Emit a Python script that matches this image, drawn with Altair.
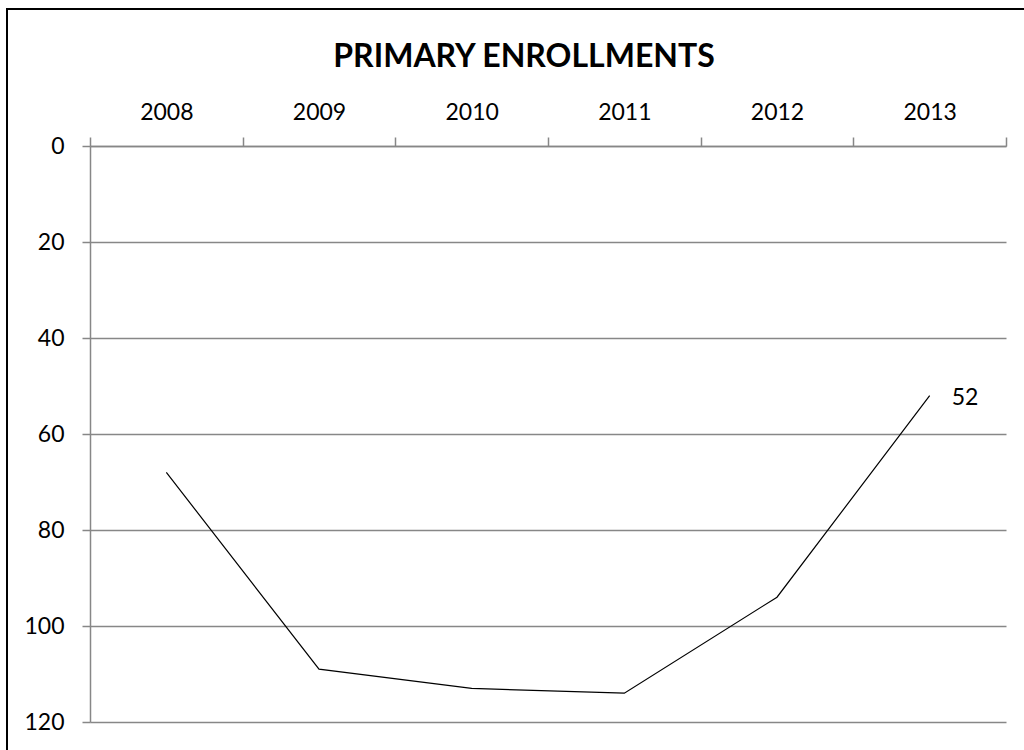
import altair as alt
import pandas as pd

years = ["2008", "2009", "2010", "2011", "2012", "2013"]
enrollments = [68, 109, 113, 114, 94, 52]
y_ticks = [0, 20, 40, 60, 80, 100, 120]
title_text = "PRIMARY ENROLLMENTS"

df = pd.DataFrame({"year": years, "value": enrollments})

FONT = "Lato"
GRAY = "#878787"

x_enc = alt.X(
    "year:O",
    sort=years,
    bandPosition=0.5,
    scale=alt.Scale(type="band", paddingInner=0, paddingOuter=0),
    axis=alt.Axis(
        orient="top",
        title=None,
        tickBand="extent",
        grid=False,
        domainColor=GRAY,
        domainWidth=1.5,
        tickColor=GRAY,
        tickWidth=1.5,
        tickSize=9,
        labelPadding=13,
        labelFont=FONT,
        labelFontSize=23,
        labelColor="black",
        labelAngle=0,
    ),
)

y_enc = alt.Y(
    "value:Q",
    scale=alt.Scale(domain=[0, 120], reverse=True, nice=False, zero=True),
    axis=alt.Axis(
        title=None,
        values=y_ticks,
        grid=True,
        gridColor=GRAY,
        gridWidth=1.5,
        domainColor=GRAY,
        domainWidth=1.5,
        tickColor=GRAY,
        tickWidth=1.5,
        tickSize=8,
        labelPadding=18,
        labelFont=FONT,
        labelFontSize=23,
        labelColor="black",
    ),
)

line = alt.Chart(df).mark_line(color="black", strokeWidth=1.2).encode(x=x_enc, y=y_enc)

label = (
    alt.Chart(df)
    .transform_filter(alt.datum.year == years[-1])
    .mark_text(align="left", baseline="middle", dx=22, dy=2, font=FONT, fontSize=23, color="black")
    .encode(
        x=alt.X("year:O", sort=years, bandPosition=0.5),
        y=alt.Y("value:Q"),
        text=alt.Text("value:Q"),
    )
)

border = (
    alt.Chart(pd.DataFrame({"b": [0]}))
    .mark_rect(fill=None, stroke="black", strokeWidth=2)
    .encode(
        x=alt.value(-83),
        y=alt.value(-137),
        x2=alt.value(950),
        y2=alt.value(620),
    )
)

title = (
    alt.Chart(pd.DataFrame({"t": [title_text]}))
    .mark_text(
        align="center",
        baseline="alphabetic",
        font=FONT,
        fontSize=32,
        fontWeight="bold",
        color="black",
    )
    .encode(x=alt.value(434), y=alt.value(-79), text="t:N")
)

chart = (
    alt.layer(border, line, label, title)
    .properties(
        width=916,
        height=576,
        padding={"left": 90, "top": 146, "right": 18, "bottom": 28},
        autosize=alt.AutoSizeParams(type="none"),
    )
    .configure_view(stroke=None)
)

chart.save("out.html", embed_options={"renderer": "svg", "actions": False})
